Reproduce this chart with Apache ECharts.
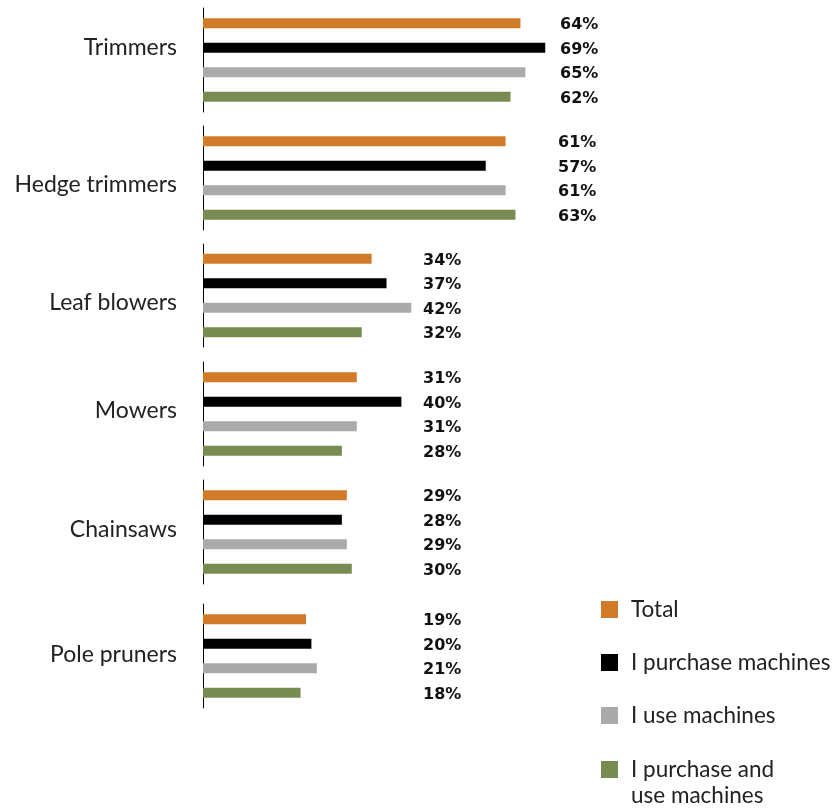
<!DOCTYPE html>
<html>
<head>
<meta charset="utf-8">
<script src="https://cdn.jsdelivr.net/npm/echarts@6/dist/echarts.min.js"></script>
<style>html,body{margin:0;padding:0;background:#fff;}#chart{width:839px;height:811px;}</style>
</head>
<body>
<div id="chart"></div>
<script>
// ---- data ----
var tools = ['Trimmers', 'Hedge trimmers', 'Leaf blowers', 'Mowers', 'Chainsaws', 'Pole pruners'];
var groups = ['Total', 'I purchase machines', 'I use machines', 'I purchase and use machines'];
var total    = [64, 61, 34, 31, 29, 19];
var purchase = [69, 57, 37, 40, 28, 20];
var use      = [65, 61, 42, 31, 29, 21];
var both     = [62, 63, 32, 28, 30, 18];

// ---- styling ----
var values = [total, purchase, use, both];
var colors = ['#D17A27', '#000000', '#AAAAAA', '#788C52'];
var gridTops = [8, 126, 244, 362, 480, 604];
var gridHeights = [104, 104, 103, 104, 104, 104];
var axisMax = [100, 100, 100, 100, 100, 91.5];
var labelDx = [357, 355, 220, 220, 220, 220];
// vertical shift of each tool name relative to its group centre
var nameAlign = ['bottom', 'top', 'top', 'bottom', 'bottom', 'bottom'];
var nameLH = [24, 14, 15, 6, 4, 2];

var grids = [], xAxes = [], yAxes = [], series = [];
tools.forEach(function (t, g) {
  grids.push({left: 203, width: 496, top: gridTops[g], height: gridHeights[g]});
  xAxes.push({type: 'value', gridIndex: g, min: 0, max: axisMax[g], show: false});
  yAxes.push({
    type: 'category', gridIndex: g, data: [t], inverse: true,
    axisLine: {show: true, lineStyle: {color: '#000', width: 1}},
    axisTick: {show: false},
    axisLabel: {margin: 26, fontSize: 23, fontFamily: 'Lato', color: '#222',
                verticalAlign: nameAlign[g], lineHeight: nameLH[g]}
  });
  groups.forEach(function (name, s) {
    series.push({
      type: 'bar', name: name, xAxisIndex: g, yAxisIndex: g,
      data: [values[s][g]],
      barWidth: 10, barGap: '145%',
      itemStyle: {color: colors[s]},
      label: {
        show: true, position: [labelDx[g], '50%'], offset: [0, 2], align: 'left', verticalAlign: 'middle',
        formatter: '{c}%', fontFamily: 'DejaVu Sans', fontWeight: 'bold', fontSize: 16, color: '#111'
      }
    });
  });
});

var legendText = {fontFamily: 'Lato', fontSize: 22.5, color: '#222', lineHeight: 26, padding: [0, 0, 0, 8]};
var option = {
  animation: false,
  color: colors,
  grid: grids, xAxis: xAxes, yAxis: yAxes, series: series,
  legend: [
    {orient: 'vertical', left: 601, top: 596.5, padding: 0, itemWidth: 17, itemHeight: 17, itemGap: 27,
     icon: 'rect', selectedMode: false, data: groups.slice(0, 3), textStyle: legendText},
    {orient: 'vertical', left: 601, top: 730.5, padding: 0, itemWidth: 17, itemHeight: 17,
     icon: 'rect', selectedMode: false, data: [groups[3]], textStyle: legendText,
     formatter: function () { return ' \nI purchase and\nuse machines'; }}
  ]
};
var chart = echarts.init(document.getElementById('chart'));
chart.setOption(option);
</script>
</body>
</html>
